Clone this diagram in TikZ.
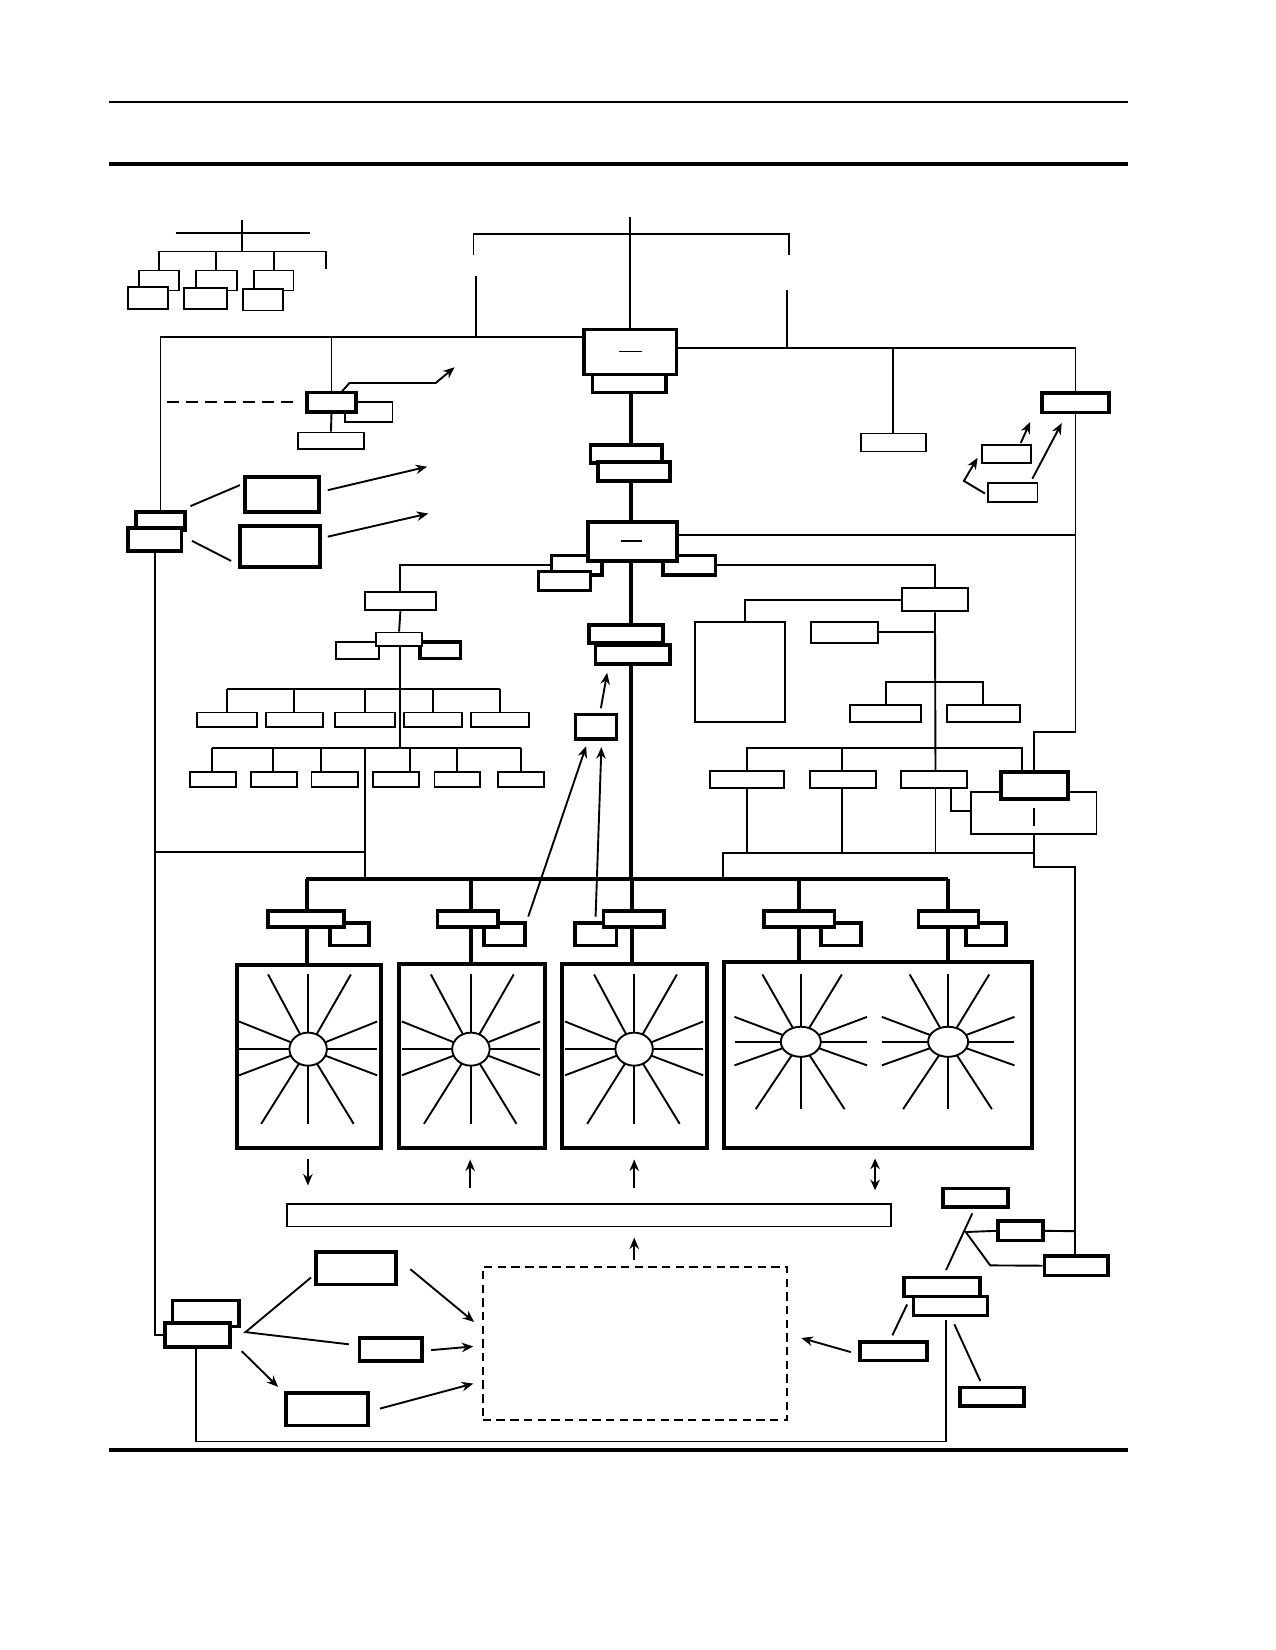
\documentclass[tikz,border=0pt]{standalone}
\usetikzlibrary{arrows.meta,calc,fit}
\tikzset{
  bx/.style={draw, fill=white, line width=1.7pt, inner sep=0pt},
  tbx/.style={bx, line width=3.5pt},
  ln/.style={line width=1.8pt},
  tln/.style={line width=3.8pt},
  arr/.style={ln, -{Stealth[length=11pt,width=9pt]}},
  pics/burst/.style n args={4}{
    code={
    \foreach \u/\v in {1/0, 1/-.37, .62/-1, 0/-1, -.58/-1, -1/-.37,
                       -1/0, -1/.35, -.68/1, 0/1, .66/1, 1/.35}
      \draw[ln] (0,0) -- (\u*#1, \v*#2);
    \draw[ln, fill=white] (0,0) ellipse [x radius=#3, y radius=#4];
    }
  }
}
\begin{document}
\begin{tikzpicture}[x=1pt,y=-1pt]
\useasboundingbox (0,0) rectangle (1212,1568);

% page rules
\draw[line width=2pt] (104,97) -- (1072,97);
\draw[line width=3.2pt] (104,156) -- (1072,156);
\draw[line width=3.8pt] (104,1378) -- (1072,1378);

% small chart, top left
\draw[ln] (167,221) -- (295,221) (230,209) -- (230,239);
\draw[ln] (151,257) -- (151,239) -- (310,239) -- (310,256);
\foreach \l/\r/\n in {132/170/1, 186/225/2, 241/279/3}
  \node[bx, fit={(\l,257) (\r,276)}] (tlb\n) {};
\foreach \n in {1,2,3}
  \draw[ln] (tlb\n.north) -- (tlb\n.north |- 0,239);
\node[bx, fit={(122,273) (160,294)}] (tlf1) {};
\node[bx, fit={(175,274) (216,294)}] (tlf2) {};
\node[bx, fit={(231,275) (269,295)}] (tlf3) {};

% head of the column
\node[tbx, fit={(563,350) (633,373)}] (hqs) {};
\node[tbx, fit={(555,313) (643,356)}] (hq) {};
\draw[ln] (588,334) -- (610,334);
\draw[ln] (599,206) -- (hq.north);
\draw[ln] (450,242) -- (450,222) -- (750,222) -- (750,242);
\draw[ln] (452,262) -- (452,320);
\draw[ln] (748,276) -- (748,331);

% right branch of the head
\node[tbx, fit={(990,373.5) (1054,392)}] (r1) {};
\draw[ln] (hq.east |- 0,331) -| (r1.north);
\node[bx, fit={(818,412) (880,429)}] (rb) {};
\draw[ln] (849,331) -- (rb.north);
\node[bx, fit={(933,423) (980,440)}] (rs1) {};
\node[bx, fit={(939,459) (986,477)}] (rs2) {};
\draw[arr] (970,421) -- (979,401);
\draw[arr] (981,455) -- (1009,402);
\draw[arr] (936,469) -- (916,457) -- (929,435);

% left branch of the head
\node[tbx, fit={(129,486.6) (176,504)}] (l1b) {};
\node[tbx, fit={(121.6,502) (172.5,523.7)}] (l1) {};
\draw[ln] (hq.west |- 0,320) -| (l1b.north);
\node[bx, fit={(328,382) (373,401)}] (l2s) {};
\node[tbx, fit={(291.5,373) (338.5,391.6)}] (l2) {};
\node[bx, fit={(283,411) (346,427)}] (l3) {};
\draw[ln] (315,320) -- (l2.north);
\draw[ln] (l2.south) -- (l3.north);
\draw[ln, dash pattern=on 11pt off 7pt] (159,382) -- (280,382);
\draw[arr] (325,372) -- (332,364) -- (414,364) -- (432,349);
\node[tbx, fit={(233,453) (303,486.6)}] (m1) {};
\node[tbx, fit={(228,500) (304,538.7)}] (m2) {};
\draw[ln] (181,481) -- (228,461);
\draw[ln] (182.5,514) -- (219.6,533);
\draw[arr] (311.5,465.8) -- (406,443.5);
\draw[arr] (311.5,510) -- (407,488);

% central column
\draw[tln] (600,373) -- (600,423);
\node[tbx, fit={(561,423) (629,440)}] (c1) {};
\node[tbx, fit={(568,439) (637,457)}] (c2) {};
\draw[tln] (600,457) -- (600,497);
\node[tbx, fit={(524,528) (572,546.6)}] (bl) {};
\node[tbx, fit={(511.6,543) (561,561)}] (bl2x) {};
\node[tbx, fit={(630,528) (680,546.6)}] (br) {};
\node[tbx, fit={(559,496) (643.5,533)}] (b) {};
\draw[ln] (590,514) -- (610,514);
\draw[ln] (b.east |- 0,508) -- (1022,508);
\draw[tln] (600,533) -- (600,594);
\node[tbx, fit={(560,594) (630,611)}] (d1) {};
\node[tbx, fit={(566,613) (636.4,631)}] (d2) {};
\draw[tln] (600,631) -- (600,835);
\node[tbx, fit={(547,679) (586,702)}] (e) {};
\draw[arr] (571,673) -- (577,639.4);
\draw[arr] (502,871) -- (557,709);
\draw[arr] (566,871) -- (571.5,710);

% left tree
\node[bx, fit={(347,562.4) (414,580)}] (f1) {};
\draw[ln] (bl.west) -| (f1.north);
\node[bx, fit={(319.6,610) (360,626.5)}] (f3) {};
\node[tbx, fit={(399,610) (437.7,625.7)}] (f4) {};
\node[bx, fit={(357.5,601) (401,614)}] (f2) {};
\draw[ln] (f1.south) -- (f2.north);
\draw[ln] (380,614) -- (380,711);
\draw[ln] (216,655) -- (475,655);
\foreach \l/\r/\n in {187/244/1, 252.6/306.7/2, 318.5/375.6/3, 384/439/4, 447.8/502.5/5}
  \node[bx, fit={(\l,677) (\r,691)}] (ra\n) {};
\foreach \n in {1,...,5}
  \draw[ln] (ra\n.north) -- (ra\n.north |- 0,655);
\draw[ln] (201.6,711) -- (495,711);
\foreach \x in {201.6,259.8,305,390,434.5,495}
  \draw[ln] (\x,711) -- (\x,733.5);
\foreach \l/\r/\n in {180.6/224/1, 238.7/282.4/2, 296/340/3, 354.5/398/4, 413/456.3/5, 473.4/517/6}
  \node[bx, fit={(\l,733.5) (\r,748)}] (rb\n) {};
\draw[ln] (347,711) -- (347,835);
\draw[ln] (147,810) -- (347,810);

% right tree
\node[bx, fit={(857,559) (920,581)}] (g1) {};
\draw[ln] (br.east) -| (g1.north);
\node[bx, fit={(660.6,591) (746,686)}] (h) {};
\draw[ln] (g1.west) -- (708,570) -- (708,591);
\node[bx, fit={(771,591) (834.6,611)}] (g2) {};
\draw[ln] (g2.east) -- (889,601);
\draw[ln] (g1.south) -- (889,732.6);
\draw[ln] (842,670) -- (842,648) -- (934,648) -- (934,670);
\node[bx, fit={(807.5,670) (875,686)}] (k1) {};
\node[bx, fit={(900,670) (969.4,686)}] (k2) {};
\draw[ln] (710,732.6) -- (710,710.7) -- (971.5,710.7) -- (971.5,733.5);
\draw[ln] (800.5,710.7) -- (800.5,732.6);
\foreach \l/\r/\n in {675/745/1, 769.7/832.8/2, 856.5/919/3}
  \node[bx, fit={(\l,732.6) (\r,748.7)}] (n\n) {};
\foreach \x in {710,800.5,889}
  \draw[ln] (\x,748.7) -- (\x,810.5);
\draw[ln] (687,835) -- (687,810.5) -- (982.5,810.5);
\draw[ln] (904,748.7) -- (904,770.6) -- (923,770.6);
\node[bx, fit={(923,752.8) (1042,792.8)}] (r3) {};
\node[tbx, fit={(951,733.5) (1015,759.6)}] (r2) {};
\draw[ln] (982.5,768) -- (982.5,785);
\draw[ln] (r1.south) -- (1022,696) -- (983,696) -- (r2.north);
\draw[ln] (982.5,792.8) -- (982.5,824) -- (1021.4,824) -- (1021.4,1193.6);

% bus and the five units
\draw[tln] (291,835) -- (900.7,835);
\foreach \x/\t in {291.8/916.6, 447.5/916, 601/916, 759.6/914, 900.8/914}
  \draw[tln] (\x,835) -- (\x,\t);
\foreach \l/\r/\n in {313.5/350.8/1, 460/498.6/2, 546.6/586/3, 780/818.5/4, 918/956/5}
  \node[tbx, fit={(\l,877) (\r,898.5)}] (us\n) {};
\foreach \l/\r/\n in {254.5/326.8/1, 415.9/473/2, 573.6/631/3, 726/793/4, 872.8/930/5}
  \node[tbx, fit={(\l,866) (\r,881)}] (u\n) {};
\node[draw, line width=3.8pt, fit={(225,916.6) (362,1091)}, inner sep=0pt] (fr1) {};
\node[draw, line width=3.8pt, fit={(379,916) (517.9,1091)}, inner sep=0pt] (fr2) {};
\node[draw, line width=3.8pt, fit={(534,916) (672,1091)}, inner sep=0pt] (fr3) {};
\node[draw, line width=3.8pt, fit={(688,914) (980.7,1091)}, inner sep=0pt] (fr4) {};
\foreach \x in {292.8,447.5,602.6}
  \pic at (\x,997) {burst={65.6}{71}{17.8}{15.7}};
\foreach \x in {761,901}
  \pic at (\x,990) {burst={63}{64}{19}{14.3}};

% arrows to the bar
\draw[arr] (292.6,1101.8) -- (292.6,1126.6);
\draw[arr] (446.8,1129) -- (446.8,1101.8);
\draw[arr] (602.7,1129) -- (602.7,1101.8);
\draw[ln, {Stealth[length=10pt,width=9pt]}-{Stealth[length=10pt,width=9pt]}] (831.6,1101) -- (831.6,1131);
\node[bx, fit={(273,1144.5) (846.8,1165.5)}] (bar) {};
\draw[arr] (602.7,1197.7) -- (602.7,1176);
\node[draw, line width=1.8pt, dash pattern=on 8pt off 5pt, fit={(458.8,1204) (748,1349.8)}, inner sep=0pt] (pool) {};

% bottom left
\node[tbx, fit={(164,1236) (227,1260.5)}] (bl1) {};
\node[tbx, fit={(156.8,1257) (218.6,1280)}] (bl2) {};
\draw[ln] (l1.south) |- (bl2.west);
\coordinate (fan) at (233.3,1265.9);
\node[tbx, fit={(300,1189.8) (376,1220.5)}] (p1) {};
\node[tbx, fit={(341.7,1271.5) (400.7,1293.4)}] (p2) {};
\node[tbx, fit={(271.9,1323.8) (349.8,1354.6)}] (p3) {};
\draw[ln] (295.6,1214) -- (fan) -- (331.6,1277.5);
\draw[arr] (229.7,1284) -- (264.3,1318);
\draw[arr] (389.8,1206) -- (450.6,1256.3);
\draw[arr] (409.8,1283) -- (449.8,1279.5);
\draw[arr] (361,1338.6) -- (449.8,1314.8);
\draw[ln] (186,1280) -- (186,1369.8) -- (898.9,1369.8) -- (898.9,1254.8);

% bottom right
\node[tbx, fit={(896,1129.5) (957.8,1147)}] (q1) {};
\node[tbx, fit={(948.7,1160.6) (991.3,1178.7)}] (q2) {};
\node[tbx, fit={(992.5,1193.6) (1053,1212)}] (q3) {};
\coordinate (jn) at (917.8,1170.8);
\draw[ln] (q2.east) -- (1021.4,1170);
\draw[ln] (924,1153) -- (899,1207);
\draw[ln] (q2.west) -- (jn) -- (941,1202.5) -- (q3.west);
\node[tbx, fit={(858.9,1214) (931.6,1232)}] (k3) {};
\node[tbx, fit={(868,1232) (938.5,1250)}] (k4) {};
\draw[ln] (862,1239.6) -- (848,1269);
\node[tbx, fit={(817,1275.4) (881,1292.8)}] (s1) {};
\draw[arr] (808.6,1284.9) -- (761.5,1271.5);
\draw[ln] (906.9,1258.5) -- (931.6,1312.4);
\node[tbx, fit={(912.3,1318.5) (973.4,1336.2)}] (s2) {};

\end{tikzpicture}
\end{document}
